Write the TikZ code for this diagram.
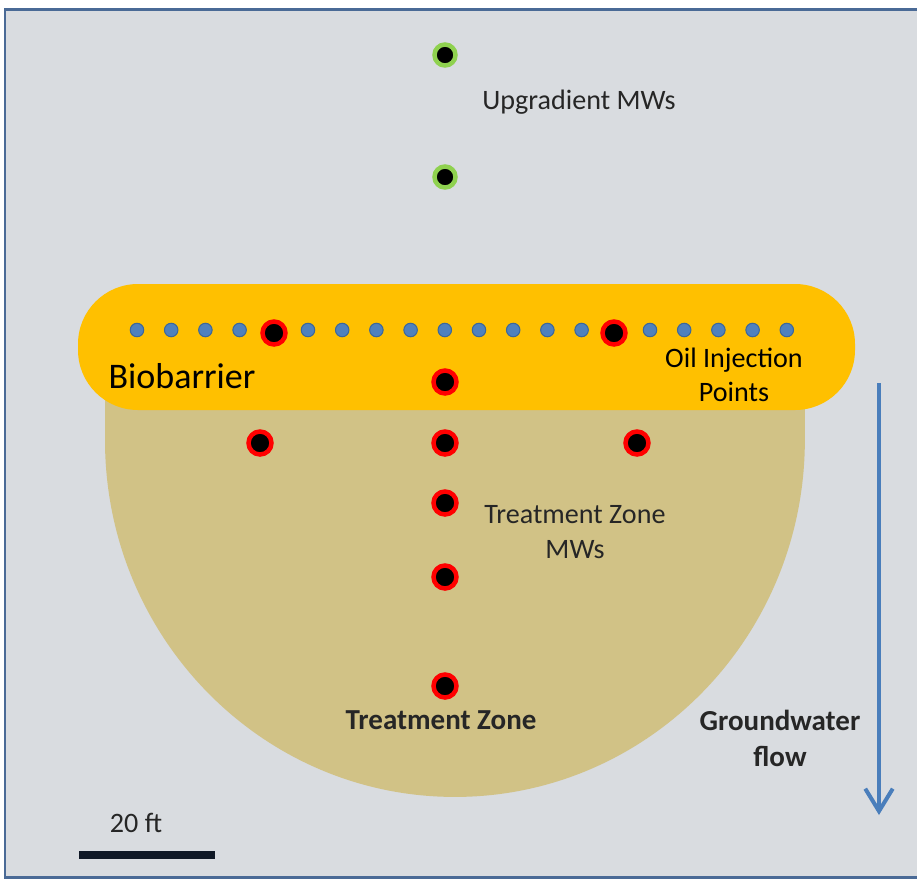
\documentclass[tikz,border=0pt]{standalone}
\usepackage{fontspec}
\setmainfont{Carlito}
\usetikzlibrary{arrows.meta,positioning}
\definecolor{sky}{HTML}{D9DCE0}
\definecolor{frameblue}{HTML}{4A6A96}
\definecolor{barrier}{HTML}{FFC000}
\definecolor{zone}{HTML}{D1C286}
\definecolor{oil}{HTML}{4F81BD}
\definecolor{oilrim}{HTML}{3A679C}
\definecolor{ringred}{HTML}{FF0000}
\definecolor{ringgreen}{HTML}{8FD14F}
\definecolor{ink}{HTML}{262626}
\definecolor{flowblue}{HTML}{4A7EBB}
\definecolor{barink}{HTML}{0F1826}

\begin{document}
\begin{tikzpicture}[x=0.02cm, y=-0.02cm, font=\fontsize{16}{19.5}\selectfont,
  mw/.style={circle, fill=black, inner sep=0pt, minimum size=0.46cm, line width=0.09cm},
  tzmw/.style={mw, draw=ringred},
  upmw/.style={mw, draw=ringgreen, minimum size=0.42cm},
  inj/.style={circle, fill=oil, draw=oilrim, line width=0.6pt, inner sep=0pt, minimum size=0.27cm},
  lab/.style={text=ink, align=center, inner sep=0pt},
  flow/.style={-{Straight Barb[length=0.45cm, width=0.55cm]}, draw=flowblue, line width=0.08cm},
  scalebar/.style={draw=barink, line width=0.17cm}]

% ---------------- page and frame
\clip (0,0) rectangle (917,880);
\fill[white] (0,0) rectangle (917,880);
\draw[frameblue, fill=sky, line width=0.06cm] (5,9) rectangle (940,877);

% ---------------- treatment zone and biobarrier
\fill[zone] (105,400) -- (105,440) arc[start angle=180, end angle=360, x radius=7cm, y radius=7.14cm]
  -- (805,400) -- cycle;
\fill[barrier, rounded corners=1.2cm] (78,284) rectangle (855,410);

% ---------------- oil injection points along the barrier
\foreach \i in {0,1,2,3,5,6,7,8,9,10,11,12,13,15,16,17,18,19}
  \node[inj] (ip\i) at ({137+34.2*\i},330) {};

% ---------------- monitoring wells
\node[upmw] (up1) at (445,55) {};
\node[upmw] (up2) at (445,177) {};
\node[tzmw] (tz1) at (274,333) {};
\node[tzmw] (tz2) at (614,333) {};
\node[tzmw] (tz3) at (445,382) {};
\node[tzmw] (tz4) at (260,443) {};
\node[tzmw] (tz5) at (445,443) {};
\node[tzmw] (tz6) at (637,443) {};
\node[tzmw] (tz7) at (445,503) {};
\node[tzmw] (tz8) at (445,577) {};
\node[tzmw] (tz9) at (445,686) {};

% ---------------- labels
\node[lab] (uplab) at (579,102) {Upgradient MWs};
\node[lab, text=black, font=\fontsize{20.5}{24}\selectfont] (biolab) at (182,376) {Biobarrier};
\node[lab, text=black] (oillab) at (734,375) {Oil Injection\\Points};
\node[lab] (tzlab) at (575,532) {Treatment Zone\\MWs};
\node[lab, font=\fontsize{16.5}{20}\selectfont\bfseries] (zonelab) at (441,720) {Treatment Zone};
\node[lab, font=\fontsize{16.5}{20.5}\selectfont\bfseries] (gwlab) at (780,738) {Groundwater\\flow};

% ---------------- flow arrow and scale bar
\coordinate (flowtop) at (879,383);
\coordinate (flowend) at (879,815);
\draw[flow] (flowtop) -- (flowend);
\coordinate (sb0) at (79,855);
\coordinate (sb1) at (215,855);
\draw[scalebar] (sb0) -- (sb1);
\node[lab] (sblab) at (136,823) {20 ft};
\end{tikzpicture}
\end{document}
